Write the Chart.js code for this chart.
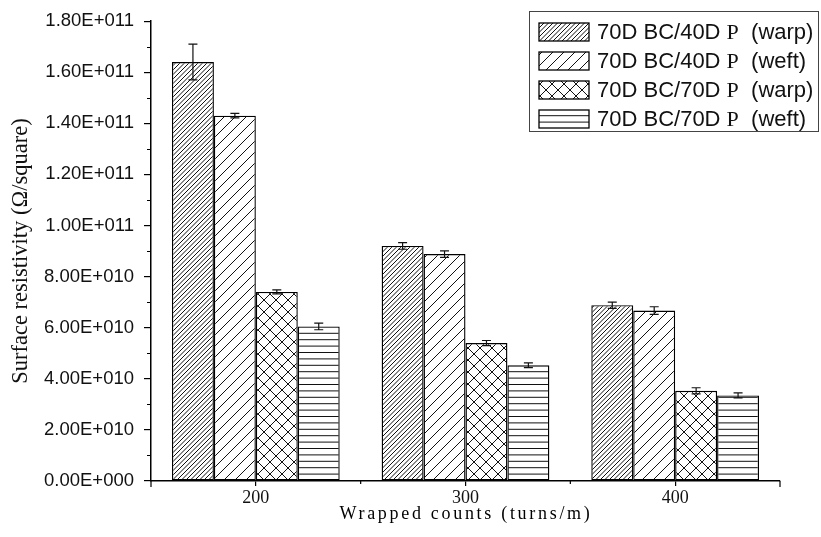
<!DOCTYPE html>
<html>
<head>
<meta charset="utf-8">
<script src="https://cdn.jsdelivr.net/npm/chart.js@4.4.1/dist/chart.umd.min.js"></script>
<style>
  html, body { margin: 0; padding: 0; background: #fff; }
  #wrap { width: 821px; height: 537px; position: relative; }
</style>
</head>
<body>
<div id="wrap"><canvas id="chart"></canvas></div>
<script>
// Wrapped counts on the x axis
const categories = ['200', '300', '400'];

// Series names (the "P" is set in a serif face when drawn)
const seriesLabels = [
  '70D BC/40D P (warp)',
  '70D BC/40D P (weft)',
  '70D BC/70D P (warp)',
  '70D BC/70D P (weft)'
];

// Surface resistivity (Ω/square)
const bc40Warp = [1.64e11, 9.2e10, 6.88e10];
const bc40Weft = [1.43e11, 8.88e10, 6.67e10];
const bc70Warp = [7.4e10, 5.4e10, 3.53e10];
const bc70Weft = [6.05e10, 4.53e10, 3.35e10];

// Standard deviations
const bc40WarpErr = [7.0e9, 1.3e9, 1.2e9];
const bc40WeftErr = [0.9e9, 1.3e9, 1.5e9];
const bc70WarpErr = [0.8e9, 1.0e9, 1.2e9];
const bc70WeftErr = [1.3e9, 0.9e9, 1.0e9];

// Y tick labels, one per 2E+010 step
const yTickLabels = ['0.00E+000', '2.00E+010', '4.00E+010', '6.00E+010', '8.00E+010',
                     '1.00E+011', '1.20E+011', '1.40E+011', '1.60E+011', '1.80E+011'];

const xTitle = 'Wrapped counts (turns/m)';
const yTitle = 'Surface resistivity (\u03A9/square)';

// ---- hatch fills ----
function makeTile(w, h, draw) {
  const c = document.createElement('canvas');
  c.width = w; c.height = h;
  const g = c.getContext('2d');
  g.fillStyle = '#fff';
  g.fillRect(0, 0, w, h);
  g.strokeStyle = '#111';
  g.lineWidth = 1;
  draw(g, w, h);
  return document.createElement('canvas').getContext('2d').createPattern(c, 'repeat');
}
function diagonal(step, reps, mode) {
  const T = step * reps;
  return makeTile(T, T, (g) => {
    g.beginPath();
    for (let k = -reps - 1; k <= reps + 1; k++) {
      g.moveTo(k * step, T); g.lineTo(k * step + T, 0);
      if (mode === 'both') {
        g.moveTo(k * step, 0); g.lineTo(k * step + T, T);
      }
    }
    g.stroke();
  });
}
function horizontal(step, reps) {
  const T = Math.round(step * reps);
  return makeTile(4, T, (g) => {
    g.beginPath();
    for (let k = 0; k < reps; k++) {
      const y = k * step + 0.5;
      g.moveTo(0, y); g.lineTo(4, y);
    }
    g.stroke();
  });
}
const fills = [
  diagonal(4.5, 2, 'fwd'),
  diagonal(11, 1, 'fwd'),
  diagonal(12, 1, 'both'),
  horizontal(6.4, 5)
];

const values = [bc40Warp, bc40Weft, bc70Warp, bc70Weft];
const errors = [bc40WarpErr, bc40WeftErr, bc70WarpErr, bc70WeftErr];

const datasets = values.map((v, i) => ({
  label: seriesLabels[i],
  data: v,
  errors: errors[i],
  backgroundColor: fills[i],
  borderColor: '#000',
  borderWidth: 1.4,
  borderSkipped: false,
  categoryPercentage: 0.8,
  barPercentage: 1.0
}));

// error bars with caps
const errorBars = {
  id: 'errorBars',
  afterDatasetsDraw(chart) {
    const ctx = chart.ctx, y = chart.scales.y;
    ctx.save();
    ctx.strokeStyle = '#111';
    ctx.lineWidth = 1.2;
    chart.data.datasets.forEach((ds, i) => {
      chart.getDatasetMeta(i).data.forEach((bar, j) => {
        const v = ds.data[j], e = ds.errors[j];
        const top = y.getPixelForValue(v + e), bot = y.getPixelForValue(v - e);
        const x = bar.x;
        ctx.beginPath();
        ctx.moveTo(x, top); ctx.lineTo(x, bot);
        ctx.moveTo(x - 4.5, top); ctx.lineTo(x + 4.5, top);
        ctx.moveTo(x - 4.5, bot); ctx.lineTo(x + 4.5, bot);
        ctx.stroke();
      });
    });
    ctx.restore();
  }
};

// minor ticks, x title and the boxed legend
const decorations = {
  id: 'decorations',
  afterDraw(chart) {
    const ctx = chart.ctx, a = chart.chartArea;
    const y = chart.scales.y, x = chart.scales.x;
    ctx.save();
    ctx.strokeStyle = '#000';
    ctx.lineWidth = 1.2;
    // minor y ticks between labelled ones
    ctx.beginPath();
    for (let k = 0; k < yTickLabels.length - 1; k++) {
      const py = Math.round(y.getPixelForValue((2 * k + 1) * 1e10)) + 0.5;
      ctx.moveTo(a.left - 4, py); ctx.lineTo(a.left, py);
    }
    // short ticks at category boundaries
    const half = (x.getPixelForValue(1) - x.getPixelForValue(0)) / 2;
    for (let k = 0; k <= categories.length; k++) {
      const px = x.getPixelForValue(0) - half + k * 2 * half;
      const len = (k === 0 || k === categories.length) ? 6 : 3;
      ctx.moveTo(px, a.bottom); ctx.lineTo(px, a.bottom + len);
    }
    ctx.stroke();

    // x axis title with wide letter spacing
    ctx.fillStyle = '#000';
    ctx.font = '18px "Liberation Serif", "Times New Roman", serif';
    ctx.textBaseline = 'middle';
    ctx.textAlign = 'left';
    if ('letterSpacing' in ctx) ctx.letterSpacing = '2.7px';
    const tw = ctx.measureText(xTitle).width;
    ctx.fillText(xTitle, 466 - tw / 2, 514);
    if ('letterSpacing' in ctx) ctx.letterSpacing = '0px';

    // legend box
    const bx = 529.5, by = 11.5, bw = 289, bh = 120;
    ctx.strokeStyle = '#444';
    ctx.lineWidth = 1;
    ctx.strokeRect(bx, by, bw, bh);
    const sans = '22px "Liberation Sans", Arial, sans-serif';
    const serif = '22px "Liberation Serif", "Times New Roman", serif';
    chart.data.datasets.forEach((ds, i) => {
      const cy = 32 + i * 29;
      ctx.fillStyle = ds.backgroundColor;
      ctx.fillRect(539, cy - 9, 50, 18);
      ctx.strokeStyle = '#000';
      ctx.lineWidth = 1.3;
      ctx.strokeRect(539, cy - 9, 50, 18);
      const parts = ds.label.split(' P ');
      ctx.fillStyle = '#111';
      let tx = 597;
      ctx.font = sans;
      ctx.fillText(parts[0] + ' ', tx, cy + 1);
      tx += ctx.measureText(parts[0] + ' ').width;
      ctx.font = serif;
      ctx.fillText('P', tx, cy + 1);
      tx += ctx.measureText('P').width;
      ctx.font = sans;
      ctx.fillText('  ' + parts[1], tx, cy + 1);
    });
    ctx.restore();
  }
};

new Chart(document.getElementById('chart'), {
  type: 'bar',
  data: { labels: categories, datasets },
  options: {
    responsive: true,
    maintainAspectRatio: false,
    animation: false,
    layout: { padding: { left: 0, right: 41, top: 20, bottom: 0 } },
    plugins: { legend: { display: false }, tooltip: { enabled: false } },
    scales: {
      x: {
        grid: { display: true, offset: false, drawOnChartArea: false, drawTicks: true,
                tickLength: 5, color: '#000', lineWidth: 1.2 },
        border: { display: true, color: '#000', width: 1.5 },
        ticks: { color: '#111', padding: 1,
                 font: { family: '"Liberation Serif", "Times New Roman", serif', size: 18 } },
        afterFit(s) { s.height = 56; }
      },
      y: {
        min: 0,
        max: 1.8e11,
        grid: { display: true, drawOnChartArea: false, drawTicks: true,
                tickLength: 7, color: '#000', lineWidth: 1.2 },
        border: { display: true, color: '#000', width: 1.5 },
        ticks: {
          stepSize: 2e10,
          color: '#111',
          padding: 10,
          font: { family: '"Liberation Sans", Arial, sans-serif', size: 18.5 },
          callback: (v) => yTickLabels[Math.round(v / 2e10)]
        },
        title: {
          display: true,
          text: yTitle,
          color: '#111',
          padding: { top: 8, bottom: 0 },
          font: { family: '"Liberation Serif", "Times New Roman", serif', size: 22.5 }
        },
        afterFit(s) { s.width = 151; }
      }
    }
  },
  plugins: [errorBars, decorations]
});
</script>
</body>
</html>
